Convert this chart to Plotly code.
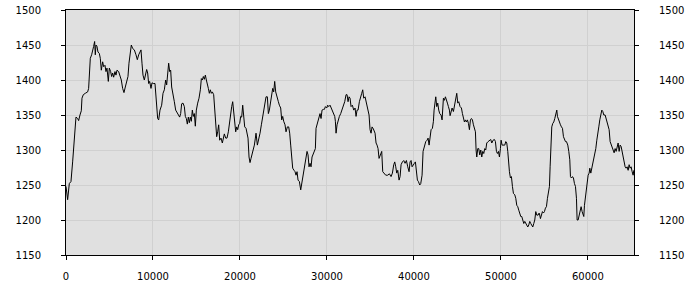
import plotly.graph_objects as go

# sample positions (x) and values (y)
x_vals = [
    0, 188, 380, 572, 763, 955, 1147, 1338, 1453, 1607, 1760, 1836, 1990, 2220, 2488, 2603, 2680, 2795, 2948,
    3063, 3178, 3293, 3370, 3446, 3561, 3676, 3830, 3945, 4060, 4213, 4328, 4481, 4596, 4711, 4865, 4980,
    5133, 5248, 5363, 5478, 5631, 5746, 5861, 6053, 6206, 6359, 6513, 6666, 6819, 6973, 7126, 7241, 7356,
    7509, 7663, 7855, 8046, 8199, 8353, 8506, 8621, 8736, 8851, 9004, 9119, 9273, 9388, 9502, 9617, 9771,
    9886, 10039, 10231,
    10347, 10538, 10653, 10807, 10998, 11152, 11305, 11458, 11573, 11688, 11803, 11918, 12033, 12148, 12301,
    12455, 12608, 12761, 12915, 13068, 13183, 13298, 13451, 13605, 13720, 13835, 13950, 14065, 14180, 14295,
    14410, 14525, 14640, 14755, 14870, 14985, 15138, 15291, 15445, 15560, 15675, 15790, 15905, 16020, 16135,
    16250, 16365, 16479, 16594, 16709, 16824, 16978, 17093, 17208, 17323, 17438, 17553, 17668, 17821, 17974,
    18089, 18204, 18358, 18511, 18664, 18779, 18894, 19048, 19163, 19278, 19393, 19508, 19623, 19738, 19853,
    19968, 20083, 20198, 20313, 20428, 20543, 20696, 20811, 20926, 21041, 21156, 21271, 21424, 21577,
    21655, 21770, 21847, 22000, 22153, 22307, 22460, 22613, 22767, 22882, 22997, 23150, 23265, 23380, 23533,
    23648, 23763, 23878, 23993, 24108, 24261, 24415, 24530, 24683, 24798, 24913, 25028, 25181, 25296, 25450,
    25603, 25718, 25833, 25948, 26063, 26216, 26331, 26446, 26561, 26676, 26830, 26983, 27098, 27213, 27328,
    27443, 27596, 27711, 27826, 27941, 28056, 28171, 28286, 28439, 28593, 28669, 28746, 28899, 29053, 29206,
    29321, 29436, 29589, 29704, 29819, 29973, 30088, 30203, 30356, 30471, 30586, 30739, 30893, 30969, 31046,
    31161, 31276, 31429, 31582, 31736, 31889, 32042, 32196,
    32312, 32427, 32542, 32657, 32772, 32925, 33078, 33232, 33347, 33462, 33577, 33730, 33883, 33998, 34113,
    34228, 34381, 34535, 34688, 34841, 34956, 35071, 35186, 35340, 35531, 35646, 35761, 35876, 35991, 36145,
    36298, 36413, 36566, 36758, 36988, 37180, 37371, 37525, 37678, 37793, 37908, 38023, 38138, 38291, 38406,
    38521, 38674, 38828, 38981, 39134, 39288, 39441, 39556, 39671, 39786, 39901, 40054, 40169, 40284, 40399,
    40514, 40668, 40783, 40936, 41051, 41204, 41358, 41511, 41626, 41741, 41856, 41971, 42124, 42239, 42316,
    42431, 42508, 42622, 42737, 42852, 42967, 43120, 43235,
    43390, 43505, 43620, 43735, 43850, 43965, 44080, 44157, 44272, 44387, 44540, 44693, 44808, 44923, 45038,
    45153, 45306, 45460, 45575, 45690, 45805, 45920, 46035, 46150, 46265, 46380, 46495, 46610, 46725, 46840,
    46955, 47070, 47146, 47223, 47338, 47453, 47568, 47683, 47798, 47913, 48028, 48143, 48258, 48373, 48526,
    48680, 48833, 48948, 49101, 49254, 49369, 49484, 49599, 49714, 49829, 49944, 50021, 50136, 50289, 50443,
    50558, 50673, 50788, 50864, 50979, 51094, 51209, 51324, 51439, 51593, 51708, 51823, 51938, 52053, 52168,
    52283, 52398, 52513, 52628, 52743, 52858, 52973, 53088, 53203, 53317, 53432, 53547, 53662, 53777, 53892,
    54007, 54122, 54275, 54391,
    54430, 54545, 54660, 54775, 54890, 55005, 55120, 55235, 55350, 55465, 55580, 55657, 55733, 55848, 55963,
    56078, 56193, 56308, 56423, 56500, 56615, 56730, 56845, 56960, 57075, 57190, 57305, 57420, 57535, 57688,
    57803, 57918, 57995, 58110, 58225, 58340, 58455, 58570, 58685, 58761, 58876, 58991, 59106, 59221, 59336,
    59451, 59528, 59605, 59720, 59835, 59911, 60026, 60141, 60218, 60333, 60448, 60563, 60678, 60793, 60908,
    61023, 61138, 61253, 61368, 61483, 61598, 61713, 61828, 61981, 62096, 62211, 62326, 62441, 62556, 62671,
    62786, 62901, 63016, 63131, 63246, 63361, 63476, 63591, 63706, 63821, 63936, 64051, 64166, 64281, 64396,
    64511, 64626, 64741, 64856, 64971, 65086, 65201, 65277,
]

y_vals = [
    1248, 1229, 1252, 1255, 1283, 1317, 1347, 1345, 1342, 1350, 1356, 1374, 1379, 1381, 1383, 1388, 1410, 1431, 1436,
    1445, 1448, 1455, 1436, 1450, 1448, 1440, 1438, 1431, 1414, 1426, 1419, 1421, 1412, 1417, 1398, 1417,
    1412, 1405, 1410, 1404, 1412, 1407, 1414, 1412, 1407, 1400, 1388, 1382, 1390, 1400, 1405, 1424, 1438,
    1450, 1445, 1443, 1436, 1429, 1436, 1440, 1443, 1424, 1407, 1400, 1405, 1415, 1410, 1395, 1398, 1388,
    1396, 1395, 1395,
    1374, 1345, 1343, 1357, 1364, 1381, 1386, 1400, 1393, 1410, 1424, 1412, 1414, 1390, 1381,
    1369, 1357, 1353, 1350, 1347, 1352, 1366, 1367, 1362, 1348, 1345, 1337, 1347, 1339, 1347,
    1341, 1357, 1348, 1352, 1334, 1357, 1367, 1374, 1386, 1402, 1400, 1405, 1401, 1407, 1400,
    1395, 1388, 1381, 1386, 1381, 1383, 1379, 1362, 1345, 1319, 1326, 1336, 1314, 1317, 1310,
    1319, 1323, 1317, 1317, 1326, 1338, 1350, 1362, 1369, 1357, 1341, 1326, 1333, 1329, 1336,
    1338, 1348, 1347, 1364, 1345, 1333, 1331, 1324, 1317, 1290, 1282, 1288, 1295, 1305,
    1307, 1317, 1324, 1307, 1314, 1324, 1336, 1348, 1355, 1367, 1376, 1376, 1352, 1357, 1369,
    1379, 1388, 1383, 1398, 1383, 1374, 1369, 1364, 1360, 1343, 1348, 1341, 1336, 1326, 1333,
    1333, 1324, 1307, 1288, 1274, 1271, 1269, 1264, 1269, 1257, 1255, 1243, 1252, 1262, 1267,
    1281, 1290, 1298, 1293, 1276, 1281, 1276, 1290, 1295, 1302, 1302, 1331, 1338, 1345, 1352,
    1345, 1357, 1358, 1358, 1362, 1360, 1364, 1362, 1364, 1360, 1357, 1352, 1348, 1341, 1324,
    1336, 1343, 1348, 1352, 1357, 1362, 1369, 1379,
    1379, 1369, 1376, 1374, 1362, 1364, 1357, 1360, 1348, 1357, 1357, 1369, 1379, 1381, 1386,
    1374, 1376, 1367, 1357, 1350, 1329, 1324, 1333, 1330, 1324, 1310, 1307, 1302, 1288, 1295,
    1298, 1269, 1266, 1264, 1264, 1266, 1262, 1267, 1279, 1283, 1276, 1267, 1271, 1257, 1262,
    1279, 1283, 1285, 1281, 1285, 1276, 1269, 1283, 1285, 1276, 1279, 1281, 1283, 1267, 1257,
    1255, 1250, 1252, 1264, 1298, 1307, 1312, 1314, 1317, 1307, 1324, 1329, 1331, 1341, 1357,
    1369, 1376, 1362, 1367, 1357, 1352, 1350, 1343,
    1374, 1371, 1376, 1369, 1367, 1362, 1357, 1349, 1357, 1360, 1355, 1367, 1376, 1381, 1367,
    1369, 1362, 1360, 1352, 1345, 1340, 1343, 1340, 1343, 1338, 1329, 1343, 1345, 1343, 1336,
    1329, 1326, 1300, 1290, 1302, 1302, 1293, 1300, 1290, 1298, 1295, 1302, 1300, 1310, 1312,
    1314, 1315, 1310, 1314, 1315, 1312, 1298, 1295, 1298, 1290, 1302, 1314, 1307, 1307, 1307,
    1312, 1310, 1298, 1283, 1269, 1260, 1262, 1248, 1238, 1236, 1231, 1221, 1219, 1214, 1210,
    1205, 1205, 1198, 1195, 1198, 1195, 1193, 1190, 1193, 1198, 1195, 1193, 1190, 1195, 1200,
    1212, 1207, 1207, 1210,
    1209, 1202, 1210, 1212, 1210, 1212, 1217, 1219, 1231, 1238, 1248, 1276, 1312, 1333, 1338,
    1340, 1345, 1350, 1357, 1348, 1343, 1338, 1336, 1333, 1331, 1319, 1314, 1312, 1312, 1307,
    1298, 1286, 1262, 1260, 1262, 1260, 1252, 1248, 1231, 1200, 1200, 1207, 1214, 1219, 1212,
    1207, 1205, 1221, 1233, 1248, 1260, 1264, 1267, 1274, 1267, 1274, 1279, 1286, 1293, 1302,
    1314, 1329, 1333, 1343, 1350, 1357, 1355, 1350, 1350, 1345, 1340, 1333, 1329, 1312, 1307,
    1302, 1300, 1296, 1302, 1298, 1307, 1310, 1298, 1307, 1305, 1298, 1288, 1281, 1276, 1274,
    1276, 1271, 1279, 1274, 1276, 1269, 1264, 1271,
]

x_ticks = [0, 10000, 20000, 30000, 40000, 50000, 60000]
y_ticks = [1150, 1200, 1250, 1300, 1350, 1400, 1450, 1500]
x_range = [0, 65300]
y_range = [1150, 1500]

font = dict(family="DejaVu Sans", size=10, color="#000000")

fig = go.Figure()
fig.add_trace(go.Scatter(x=x_vals, y=y_vals, mode="lines",
                         line=dict(color="#000000", width=1), showlegend=False,
                         hoverinfo="skip"))
fig.add_trace(go.Scatter(x=x_vals, y=y_vals, mode="lines", yaxis="y2",
                         line=dict(color="rgba(0,0,0,0)", width=0), showlegend=False,
                         hoverinfo="skip"))

fig.update_layout(
    width=700, height=300,
    margin=dict(l=66, r=66, t=10, b=45, autoexpand=False),
    paper_bgcolor="#ffffff",
    plot_bgcolor="#e0e0e0",
    font=font,
    xaxis=dict(range=x_range, tickvals=x_ticks, ticktext=[str(v) for v in x_ticks],
               showgrid=True, gridcolor="#d0d0d0", gridwidth=1,
               showline=True, linecolor="#000000", linewidth=1, mirror=True,
               ticks="outside", ticklen=4, tickcolor="#000000",
               ticklabelstandoff=8, zeroline=False, tickfont=font, automargin=False),
    yaxis=dict(range=y_range, tickvals=y_ticks, ticktext=[str(v) for v in y_ticks],
               showgrid=True, gridcolor="#d0d0d0", gridwidth=1,
               showline=True, linecolor="#000000", linewidth=1,
               ticks="outside", ticklen=4, tickcolor="#000000",
               ticklabelstandoff=18, zeroline=False, tickfont=font, automargin=False),
    yaxis2=dict(range=y_range, tickvals=y_ticks, ticktext=[str(v) for v in y_ticks],
                overlaying="y", side="right", showgrid=False,
                showline=True, linecolor="#000000", linewidth=1,
                ticks="outside", ticklen=4, tickcolor="#000000",
                ticklabelstandoff=18, zeroline=False, tickfont=font, automargin=False),
)

fig.write_html("out.html")
